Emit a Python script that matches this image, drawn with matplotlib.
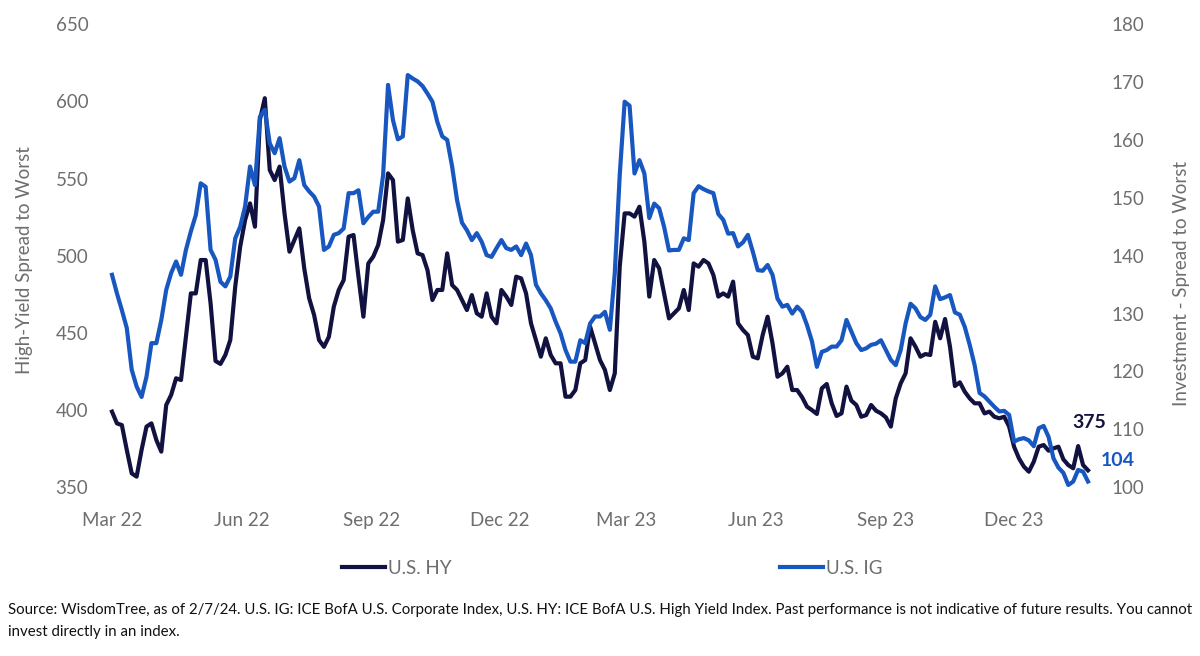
import matplotlib
matplotlib.use("Agg")
import matplotlib.pyplot as plt
import pandas as pd

# ---------------- data (~twice-weekly samples) ----------------
dates = pd.date_range("2022-03-01", periods=199, freq="84h")

hy_spread = [
    399.0, 391.4, 390.3, 374.2, 359.0, 356.9, 374.2, 389.3, 391.4, 380.6,
    373.1, 403.3, 409.8, 420.6, 419.5, 447.5, 475.6, 475.6, 497.2, 497.2,
    469.1, 431.8, 429.9, 435.7, 445.4, 480.0, 505.8, 523.1, 533.9, 518.8,
    587.9, 602.0, 555.5, 549.0, 557.7, 527.4, 502.6, 510.2, 517.7, 491.8,
    472.4, 461.6, 445.4, 441.0, 447.5, 467.0, 477.8, 484.2, 512.3, 513.4,
    486.4,
    460.5, 495.0, 499.4, 506.9, 523.1, 553.3, 549.0, 509.1, 510.2, 537.1,
    516.6, 501.5, 500.4, 490.7, 471.3, 477.8, 477.8, 501.5, 481.0, 477.8,
    471.3, 464.8, 474.5, 462.7, 460.5, 475.6, 460.5, 456.2, 477.8, 473.5,
    468.1, 486.4, 485.3, 475.6, 456.2, 445.4, 434.6, 446.5, 435.7, 430.3,
    430.3, 408.7, 408.7, 413.0, 430.3, 432.4, 454.0, 443.2, 432.4, 426.0,
    413.0,
    423.8, 492.9, 527.4, 527.4, 525.3, 531.7, 509.1, 473.5, 497.2, 491.8,
    475.6, 459.4, 462.7, 465.9, 477.8, 464.8, 495.0, 492.9, 497.2, 495.0,
    487.5, 473.5, 475.6, 473.5, 483.2, 456.2, 451.9, 448.6, 434.6, 433.5,
    448.6, 460.5, 443.2, 421.6, 423.8, 428.1, 413.0, 413.0, 408.3, 402.2,
    400.0, 397.5, 414.1, 416.9, 404.4, 396.2, 397.9, 415.2, 406.1, 403.3,
    395.7, 396.8, 403.3, 399.6, 397.9, 395.3, 389.3, 407.6, 417.3, 423.8,
    446.5, 441.1, 434.6, 436.3, 435.7, 457.2, 446.5, 459.0, 441.1, 415.6,
    418.0, 411.9, 407.6, 404.4, 404.4, 397.9, 399.0, 395.7, 394.7, 395.7,
    389.3, 376.3, 368.7, 363.4, 360.1, 366.6, 376.3, 377.4, 373.7, 375.2,
    376.3, 368.1, 364.4, 362.3, 376.7, 364.4, 361.0,
]

ig_spread = [
    136.7, 133.5, 130.6, 127.5, 120.3, 117.4, 115.6, 119.1, 124.9, 124.9,
    128.9, 134.1, 137.0, 139.0, 136.7, 141.0, 144.2, 147.0, 152.5, 151.9,
    141.0, 139.3, 135.5, 134.7, 136.4, 143.0, 145.0, 148.5, 155.4, 152.2,
    164.0, 165.2, 159.4, 157.7, 160.3, 155.4, 152.8, 153.4, 156.5, 152.2,
    151.1, 150.2, 148.5, 141.0, 141.6, 143.6, 143.9, 144.7, 150.8, 150.8,
    151.3,
    145.6, 146.7, 147.6, 147.6, 153.9, 169.5, 163.4, 160.1, 160.6, 171.2,
    170.6, 170.1, 169.3, 168.0, 166.6, 163.1, 160.6, 160.0, 155.4, 149.6,
    145.7, 144.4, 142.7, 143.9, 142.4, 140.1, 139.8, 141.3, 142.7, 141.3,
    141.0, 141.6, 140.1, 142.1, 140.1, 135.0, 133.5, 132.3, 130.9, 128.6,
    126.6, 123.7, 121.7, 121.7, 125.4, 124.9, 128.3, 129.5, 129.5, 130.3,
    127.2,
    137.0, 153.9, 166.6, 165.9, 154.2, 156.5, 154.2, 146.5, 149.0, 148.2,
    145.0, 140.9, 141.0, 141.0, 143.0, 142.7, 150.8, 152.0, 151.5, 151.1,
    150.8, 147.2, 146.2, 143.8, 143.9, 141.6, 142.3, 143.6, 140.7, 137.5,
    137.4, 138.4, 136.7, 132.6, 131.2, 131.5, 130.0, 131.2, 130.3, 128.0,
    125.2, 120.8, 123.4, 123.7, 124.3, 124.3, 125.4, 128.9, 126.9, 124.9,
    123.7, 124.0, 124.6, 124.8, 125.4, 123.7, 122.0, 121.1, 123.7, 128.3,
    131.7, 130.9, 129.4, 128.9, 129.8, 134.7, 132.5, 132.8, 133.2, 130.2,
    129.8, 127.7, 124.6, 121.1,
    116.3, 115.7, 114.8, 113.9, 113.1, 113.2, 112.5, 107.9, 108.3, 108.5,
    108.1, 107.1, 110.2, 110.6, 108.7, 105.0, 103.4, 102.5, 100.4, 101.0,
    103.0, 102.7, 101.0,
]

series_names = ["U.S. HY", "U.S. IG"]
last_labels = ["375", "104"]
tick_dates = ["2022-03-01", "2022-06-01", "2022-09-01", "2022-12-01",
              "2023-03-01", "2023-06-01", "2023-09-01", "2023-12-01"]
tick_labels = ["Mar 22", "Jun 22", "Sep 22", "Dec 22",
               "Mar 23", "Jun 23", "Sep 23", "Dec 23"]
hy_ticks = [350, 400, 450, 500, 550, 600, 650]
ig_ticks = [100, 110, 120, 130, 140, 150, 160, 170, 180]
source_lines = [
    "Source: WisdomTree, as of 2/7/24. U.S. IG: ICE BofA U.S. Corporate Index, U.S. HY: ICE BofA U.S. High Yield Index. "
    "Past performance is not indicative of future results. You cannot",
    "invest directly in an index.",
]

# ---------------- style ----------------
FONT = ["Lato", "DejaVu Sans"]
plt.rcParams["font.family"] = FONT
HY_COLOR = "#11123f"
IG_COLOR = "#1857c0"
GRAY = "#6e6e6e"

W, H = 1200, 656
fig = plt.figure(figsize=(W / 100, H / 100), dpi=100)
fig.patch.set_facecolor("white")

left_px, right_px, top_px, bot_px = 112, 1088, 24.1, 487.3
ax = fig.add_axes([left_px / W, 1 - bot_px / H, (right_px - left_px) / W, (bot_px - top_px) / H])
ax2 = ax.twinx()

(hy_line,) = ax.plot(dates, hy_spread, color=HY_COLOR, lw=3.0, solid_joinstyle="round", clip_on=False)
(ig_line,) = ax2.plot(dates, ig_spread, color=IG_COLOR, lw=3.0, solid_joinstyle="round", clip_on=False)

ax.set_xlim(dates[0], dates[-1])
ax.set_ylim(350, 650)
ax2.set_ylim(100, 180)
ax.set_yticks(hy_ticks)
ax2.set_yticks(ig_ticks)
ax.set_xticks(pd.to_datetime(tick_dates))
ax.set_xticklabels(tick_labels)

for a in (ax, ax2):
    for s in a.spines.values():
        s.set_visible(False)
    a.tick_params(length=0, labelsize=13.5, labelcolor=GRAY)
ax.tick_params(axis="y", pad=17)
ax2.tick_params(axis="y", pad=17)
ax.tick_params(axis="x", pad=18)

fig.text(25 / W, 1 - 260 / H, "High-Yield Spread to Worst", rotation=90,
         ha="center", va="center", fontsize=13.5, color=GRAY)
fig.text(1181 / W, 1 - 283 / H, "Investment - Spread to Worst", rotation=90,
         ha="center", va="center", fontsize=13.5, color=GRAY)

# end-value labels
fig.text(1089 / W, 1 - 423 / H, last_labels[0], ha="center", va="center",
         fontsize=14, fontweight="bold", color=HY_COLOR)
fig.text(1118 / W, 1 - 460 / H, last_labels[1], ha="center", va="center",
         fontsize=14, fontweight="bold", color=IG_COLOR)

leg = fig.legend([hy_line, ig_line], series_names, ncol=2, loc="center",
                 bbox_to_anchor=(612 / W, 1 - 568 / H), frameon=False,
                 handlelength=2.3, handletextpad=0.15, columnspacing=17.5,
                 prop={"family": FONT, "size": 13.5})
for t in leg.get_texts():
    t.set_color(GRAY)

fig.text(8 / W, 1 - 610 / H, source_lines[0], ha="left", va="center", fontsize=10.8, color="#111111")
fig.text(8 / W, 1 - 632 / H, source_lines[1], ha="left", va="center", fontsize=10.8, color="#111111")

fig.savefig("out.png", dpi=100, facecolor="white")
